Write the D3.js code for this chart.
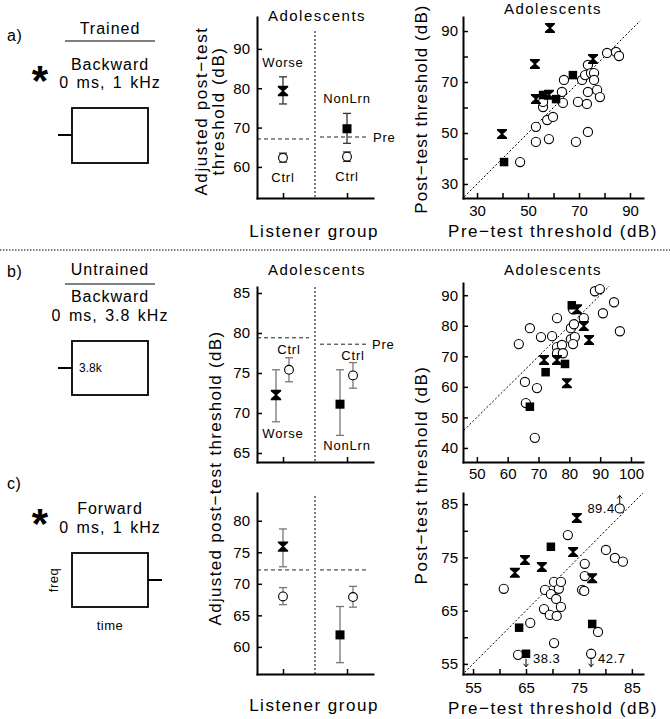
<!DOCTYPE html>
<html><head><meta charset="utf-8">
<script src="https://cdn.jsdelivr.net/npm/d3@7"></script>
<style>
body{margin:0;background:#fff;}
svg{display:block;font-family:"Liberation Sans",Arial,sans-serif;}
</style></head><body>
<svg id="chart" width="670" height="719"></svg>
<script>
// ---------------- DATA ----------------
const midGroups = ["Worse", "NonLrn"];
const ctrlName = "Ctrl";
const preName = "Pre";

// middle panel a (trained: backward 0 ms, 1 kHz)
const midA_expMean = [79.3, 69.7], midA_expLo = [76.0, 66.0], midA_expHi = [82.9, 73.6];
const midA_ctrlMean = [62.3, 62.6], midA_ctrlLo = [61.2, 61.4], midA_ctrlHi = [63.5, 63.8];
const midA_pre = [67.1, 67.6];
const midA_yTicks = [60, 70, 80, 90];

// middle panel b (untrained: backward 0 ms, 3.8 kHz)
const midB_expMean = [72.25, 71.1], midB_expLo = [68.9, 67.2], midB_expHi = [75.4, 75.4];
const midB_ctrlMean = [75.4, 74.7], midB_ctrlLo = [73.9, 73.1], midB_ctrlHi = [76.9, 76.3];
const midB_pre = [79.4, 78.6];
const midB_yTicks = [65, 70, 75, 80, 85];

// middle panel c (untrained: forward 0 ms, 1 kHz)
const midC_expMean = [75.9, 61.9], midC_expLo = [72.7, 57.5], midC_expHi = [78.7, 66.4];
const midC_ctrlMean = [68.0, 67.9], midC_ctrlLo = [66.7, 66.3], midC_ctrlHi = [69.4, 69.6];
const midC_pre = [72.2, 72.2];
const midC_yTicks = [60, 65, 70, 75, 80];

// scatter a
const scA_ctrlPre  = [46.9,53.1,53.1,58.2,57.5,59.8,55.9,55.9,63.3,63.7,64.1,68.8,69.6,71.2,72.4,73.5,74.7,75.9,75.9,73.5,73.1,73.5,77.1,78.2,81.0,84.5,85.7];
const scA_ctrlPost = [38.6,52.4,46.5,47.6,55.1,56.3,60.2,62.2,66.1,61.8,70.8,46.5,62.2,70.8,72.7,76.7,73.5,73.5,70.8,66.1,61.4,50.4,66.9,64.1,81.4,81.8,80.2];
const scA_worsePre  = [58.6,52.7,39.8,53.1,58.2,75.5];
const scA_worsePost = [91.2,77.1,49.6,63.3,65.0,79.0];
const scA_nonPre  = [40.6,55.9,61.0,67.6];
const scA_nonPost = [38.6,64.9,63.3,72.7];
const scA_xTicks = [30,40,50,60,70,80,90], scA_xLabels = [30,50,70,90];
const scA_yTicks = [30,40,50,60,70,80,90], scA_yLabels = [30,50,70,90];

// scatter b
const scB_ctrlPre  = [63.6,67.2,65.6,65.9,69.5,68.8,70.8,74.4,76.0,76.0,77.6,76.0,77.9,80.5,80.5,81.5,81.8,81.2,81.2,84.7,88.3,89.9,90.9,94.5,96.4];
const scB_ctrlPost = [74.0,79.2,61.6,54.7,59.6,43.3,76.3,76.6,82.5,73.0,73.7,71.0,71.0,79.2,75.6,80.5,76.3,74.0,85.4,82.5,91.3,92.0,84.1,87.7,78.2];
const scB_worsePre  = [71.8,76.0,79.2,82.5,84.7,86.4];
const scB_worsePost = [68.8,68.8,61.2,85.4,79.9,75.3];
const scB_nonPre  = [80.8,72.3,78.6,67.2];
const scB_nonPost = [86.7,64.8,67.5,53.5];
const scB_xTicks = [50,60,70,80,90,100], scB_yTicks = [40,50,60,70,80,90];

// scatter c
const scC_ctrlPre  = [60.8,65.8,63.5,68.6,68.4,69.5,69.7,70.3,70.3,70.7,70.8,71.2,71.6,71.6,72.9,75.6,76.0,76.1,76.1,77.3,78.6,80.1,81.8,83.3,82.7];
const scC_ctrlPost = [69.1,62.7,56.7,68.9,65.3,64.2,68.1,58.9,70.4,67.2,64.0,69.1,65.7,70.4,79.2,68.9,68.7,73.8,71.5,56.9,61.0,76.4,74.9,74.2,84.2];
const scC_worsePre  = [62.9,64.8,68.0,74.6,73.9,77.5];
const scC_worsePost = [72.1,74.5,73.2,82.4,76.0,71.1];
const scC_nonPre  = [69.7,63.7,77.5,65.0];
const scC_nonPost = [77.0,61.8,62.5,56.9];
const scC_xTicks = [55,60,65,70,75,80,85], scC_xLabels = [55,65,75,85];
const scC_yTicks = [55,60,65,70,75,80,85], scC_yLabels = [55,65,75,85];
// off-scale points (plotted at edge, real value annotated)
const scC_offPre = [82.7, 65.0, 77.3];
const scC_offShown = [84.2, 56.9, 56.9];
const scC_offActual = [89.4, 38.3, 42.7];

// ---------------- DRAWING ----------------
const svg = d3.select("#chart");

function txt(x, y, s, o = {}) {
  const t = svg.append("text").attr("x", x).attr("y", y).text(s)
    .attr("font-size", o.size || 15).attr("text-anchor", o.anchor || "middle")
    .attr("letter-spacing", o.ls == null ? 1 : o.ls).attr("fill", "#000");
  if (o.weight) t.attr("font-weight", o.weight);
  if (o.rotate) t.attr("transform", `rotate(-90,${x},${y})`);
  return t;
}
function line(x1, y1, x2, y2, o = {}) {
  const l = svg.append("line").attr("x1", x1).attr("y1", y1).attr("x2", x2).attr("y2", y2)
    .attr("stroke", o.color || "#000").attr("stroke-width", o.w || 1);
  if (o.dash) l.attr("stroke-dasharray", o.dash);
  return l;
}
function styleAxis(g) {
  g.attr("font-size", 15).attr("font-family", null);
  g.select(".domain").attr("stroke", "#000").attr("stroke-width", 2).attr("stroke-linecap", "square");
  g.selectAll(".tick line").attr("stroke", "#000").attr("stroke-width", 1.5);
  g.selectAll(".tick text").attr("fill", "#000");
}
const bowPath = (w, h) => `M${-w},${-h}H${w}V${-h+1.4}L1,0L${w},${h-1.4}V${h}H${-w}V${h-1.4}L-1,0L${-w},${-h+1.4}Z`;
function bow(x, y, s = 5) { svg.append("path").attr("d", bowPath(s, s)).attr("transform", `translate(${x},${y})`).attr("fill", "#000"); }
function sq(x, y, s = 8.5) { svg.append("rect").attr("x", x - s/2).attr("y", y - s/2).attr("width", s).attr("height", s).attr("fill", "#000"); }
function circ(x, y, r = 4.6) { svg.append("circle").attr("cx", x).attr("cy", y).attr("r", r).attr("fill", "#fff").attr("stroke", "#000").attr("stroke-width", 1.1); }
function errbar(x, y1, y2, color) {
  line(x, y1, x, y2, { color, w: 1.3 });
  line(x - 4, y1, x + 4, y1, { color, w: 1.3 });
  line(x - 4, y2, x + 4, y2, { color, w: 1.3 });
}

// separator
line(0, 250, 670, 250, { dash: "1.5,1.5", w: 1 });

// ----- left stimulus panels -----
function asterisk(cx, cy) {
  txt(cx, cy + 22, "*", { size: 42, weight: "bold", ls: 0 });
}
txt(7, 41, "a)", { size: 16, anchor: "start", ls: 0.5 });
txt(110, 34, "Trained", { size: 16 });
line(65, 41, 155, 41, { w: 1 });
asterisk(40, 73);
txt(110, 70, "Backward", { size: 16 });
txt(110, 88, "0 ms, 1 kHz", { size: 16 }).attr("word-spacing", 2);
svg.append("rect").attr("x", 72).attr("y", 108).attr("width", 76).attr("height", 55).attr("fill", "none").attr("stroke", "#000").attr("stroke-width", 1.8);
line(58, 135, 72, 135, { w: 2 });

txt(7, 277, "b)", { size: 16, anchor: "start", ls: 0.5 });
txt(110, 275, "Untrained", { size: 16 });
line(65, 284, 155, 284, { w: 1 });
txt(110, 302, "Backward", { size: 16 });
txt(110, 321, "0 ms, 3.8 kHz", { size: 16 }).attr("word-spacing", 2);
svg.append("rect").attr("x", 72).attr("y", 341).attr("width", 76).attr("height", 54).attr("fill", "none").attr("stroke", "#000").attr("stroke-width", 1.8);
line(58, 368, 72, 368, { w: 2 });
txt(79, 372, "3.8k", { size: 12, anchor: "start", ls: 0 });

txt(7, 489, "c)", { size: 16, anchor: "start", ls: 0.5 });
asterisk(40, 516);
txt(110, 514, "Forward", { size: 16 });
txt(110, 533, "0 ms, 1 kHz", { size: 16 }).attr("word-spacing", 2);
svg.append("rect").attr("x", 72).attr("y", 553).attr("width", 76).attr("height", 54).attr("fill", "none").attr("stroke", "#000").attr("stroke-width", 1.8);
line(148, 580, 162, 580, { w: 2 });
txt(58, 580, "freq", { size: 13, rotate: true, ls: 0.5 });
txt(110, 630, "time", { size: 13, ls: 0.5 });

// ----- middle panels -----
function midPanel(c) {
  const x = d3.scalePoint().domain(midGroups).range([257, 373]).padding(0.406);
  const y = d3.scaleLinear().domain(c.yDomain).range([c.bottom, c.top]);
  const xDiv = (x(midGroups[0]) + x(midGroups[1])) / 2;
  line(xDiv, c.divTop, xDiv, c.bottom, { dash: "2,2", w: 1 });
  midGroups.forEach((g, i) => {
    const x1 = i === 0 ? 257 : xDiv + 5, x2 = i === 0 ? xDiv - 6 : 367;
    line(x1, y(c.pre[i]), x2, y(c.pre[i]), { dash: "4,3", w: 1, color: "#222" });
  });
  const ga = svg.append("g").attr("transform", "translate(257,0)")
    .call(d3.axisLeft(y).tickValues(c.ticks).tickSizeInner(-5).tickSizeOuter(0).tickPadding(7));
  styleAxis(ga);
  const gb = svg.append("g").attr("transform", `translate(0,${c.bottom})`)
    .call(d3.axisBottom(x).tickSizeInner(-5).tickSizeOuter(0).tickFormat(""));
  styleAxis(gb);
  midGroups.forEach((g, i) => {
    const xe = x(g) + c.expOff[i], xc = x(g) + c.ctrlOff[i];
    errbar(xe, y(c.expLo[i]), y(c.expHi[i]), c.errColor);
    errbar(xc, y(c.ctrlLo[i]), y(c.ctrlHi[i]), c.errColor);
    if (i === 0) bow(xe, y(c.expMean[i]), 5.2); else sq(xe, y(c.expMean[i]), 9);
    circ(xc, y(c.ctrlMean[i]), 4.4);
  });
  return { x, y, xDiv };
}

const mA = midPanel({ yDomain: [52.1, 98.1], top: 17, bottom: 198, divTop: 31, ticks: midA_yTicks,
  expMean: midA_expMean, expLo: midA_expLo, expHi: midA_expHi,
  ctrlMean: midA_ctrlMean, ctrlLo: midA_ctrlLo, ctrlHi: midA_ctrlHi, pre: midA_pre,
  expOff: [0, 0], ctrlOff: [0, 0], errColor: "#333" });
txt(mA.x("Worse"), mA.y(midA_expHi[0]) - 10, "Worse", { size: 13, ls: 0.8 });
txt(mA.x("NonLrn"), mA.y(midA_expHi[1]) - 10, "NonLrn", { size: 13, ls: 0.8 });
txt(mA.x("Worse"), mA.y(midA_ctrlLo[0]) + 20, ctrlName, { size: 13, ls: 0.8 });
txt(mA.x("NonLrn"), mA.y(midA_ctrlLo[1]) + 20, ctrlName, { size: 13, ls: 0.8 });
txt(373, mA.y(midA_pre[1]) + 5, preName, { size: 13, anchor: "start", ls: 0.8 });
txt(317, 21, "Adolescents", { size: 15, ls: 1.5 });
txt(207, 111, "Adjusted post\u2212test", { size: 17, rotate: true, ls: 1.6 });
txt(224, 111, "threshold (dB)", { size: 17, rotate: true, ls: 1.6 });
txt(314, 237, "Listener group", { size: 17, ls: 1.5 });

const mB = midPanel({ yDomain: [63.875, 85.75], top: 287, bottom: 462, divTop: 287, ticks: midB_yTicks,
  expMean: midB_expMean, expLo: midB_expLo, expHi: midB_expHi,
  ctrlMean: midB_ctrlMean, ctrlLo: midB_ctrlLo, ctrlHi: midB_ctrlHi, pre: midB_pre,
  expOff: [-7, -7], ctrlOff: [6, 6], errColor: "#777" });
txt(mB.x("Worse") + 6, mB.y(midB_ctrlHi[0]) - 4, ctrlName, { size: 13, ls: 0.8 });
txt(mB.x("NonLrn") + 6, mB.y(midB_ctrlHi[1]) - 3, ctrlName, { size: 13, ls: 0.8 });
txt(mB.x("Worse"), mB.y(midB_expLo[0]) + 16, "Worse", { size: 13, ls: 0.8 });
txt(mB.x("NonLrn"), mB.y(midB_expLo[1]) + 15, "NonLrn", { size: 13, ls: 0.8 });
txt(372, mB.y(midB_pre[1]) + 5, preName, { size: 13, anchor: "start", ls: 0.8 });
txt(317, 275, "Adolescents", { size: 15, ls: 1.5 });

const mC = midPanel({ yDomain: [55.7, 84.4], top: 493, bottom: 674, divTop: 496, ticks: midC_yTicks,
  expMean: midC_expMean, expLo: midC_expLo, expHi: midC_expHi,
  ctrlMean: midC_ctrlMean, ctrlLo: midC_ctrlLo, ctrlHi: midC_ctrlHi, pre: midC_pre,
  expOff: [0, -7], ctrlOff: [0, 6], errColor: "#777" });
txt(221, 478, "Adjusted post\u2212test threshold (dB)", { size: 17, rotate: true, ls: 1.3 });
txt(314, 711, "Listener group", { size: 17, ls: 1.5 });

// ----- scatter panels -----
function scatter(c) {
  const x = d3.scaleLinear().domain(c.xDomain).range([463, 643]);
  const y = d3.scaleLinear().domain(c.yDomain).range([c.bottom, c.top]);
  line(x(c.diag[0]), y(c.diag[0]), x(c.diag[1]), y(c.diag[1]), { dash: "2,2", w: 1 });
  const ga = svg.append("g").attr("transform", "translate(463,0)")
    .call(d3.axisLeft(y).tickValues(c.yTicks).tickFormat(d => c.yLabels.includes(d) ? d : "")
      .tickSizeInner(-5).tickSizeOuter(0).tickPadding(5));
  styleAxis(ga);
  const gb = svg.append("g").attr("transform", `translate(0,${c.bottom})`)
    .call(d3.axisBottom(x).tickValues(c.xTicks).tickFormat(d => c.xLabels.includes(d) ? d : "")
      .tickSizeInner(-5).tickSizeOuter(0).tickPadding(c.xPad));
  styleAxis(gb);
  c.ctrlPre.forEach((p, i) => circ(x(p), y(c.ctrlPost[i])));
  c.nonPre.forEach((p, i) => sq(x(p), y(c.nonPost[i])));
  c.worsePre.forEach((p, i) => bow(x(p), y(c.worsePost[i])));
  return { x, y };
}

scatter({ xDomain: [24.5, 95.1], yDomain: [24.5, 95.5], top: 17, bottom: 198, diag: [25, 94], xPad: 7,
  xTicks: scA_xTicks, xLabels: scA_xLabels, yTicks: scA_yTicks, yLabels: scA_yLabels,
  ctrlPre: scA_ctrlPre, ctrlPost: scA_ctrlPost, worsePre: scA_worsePre, worsePost: scA_worsePost,
  nonPre: scA_nonPre, nonPost: scA_nonPost });
txt(553, 14, "Adolescents", { size: 15, ls: 1.5 });
txt(427, 109, "Post\u2212test threshold (dB)", { size: 17, rotate: true, ls: 1.1 });
txt(553, 237, "Pre\u2212test threshold (dB)", { size: 17, ls: 1.5 });

scatter({ xDomain: [45.5, 103.9], yDomain: [35.4, 94.0], top: 283, bottom: 462, diag: [45.8, 93], xPad: 6,
  xTicks: scB_xTicks, xLabels: scB_xTicks, yTicks: scB_yTicks, yLabels: scB_yTicks,
  ctrlPre: scB_ctrlPre, ctrlPost: scB_ctrlPost, worsePre: scB_worsePre, worsePost: scB_worsePost,
  nonPre: scB_nonPre, nonPost: scB_nonPost });
txt(553, 275, "Adolescents", { size: 15, ls: 1.5 });

const sC = scatter({ xDomain: [53.1, 87.1], yDomain: [53.1, 87.1], top: 493, bottom: 674, diag: [53.4, 87.1], xPad: 8,
  xTicks: scC_xTicks, xLabels: scC_xLabels, yTicks: scC_yTicks, yLabels: scC_yLabels,
  ctrlPre: scC_ctrlPre, ctrlPost: scC_ctrlPost, worsePre: scC_worsePre, worsePost: scC_worsePost,
  nonPre: scC_nonPre, nonPost: scC_nonPost });
txt(427, 475, "Post\u2212test threshold (dB)", { size: 17, rotate: true, ls: 1.5 });
txt(553, 714, "Pre\u2212test threshold (dB)", { size: 17, ls: 1.5 });

scC_offPre.forEach((p, i) => {
  const px = sC.x(p), py = sC.y(scC_offShown[i]);
  const up = scC_offActual[i] > scC_offShown[i];
  const y1 = up ? py - 5 : py + 5, y2 = up ? py - 13 : py + 13;
  line(px, y1, px, y2, { w: 1 });
  const d = up ? 3 : -3;
  svg.append("path").attr("d", `M${px-2.5},${y2+d}L${px},${y2}L${px+2.5},${y2+d}`).attr("fill", "none").attr("stroke", "#000").attr("stroke-width", 1);
  if (up) txt(px - 5, py + 5, scC_offActual[i].toFixed(1), { size: 13, anchor: "end", ls: 0.5 });
  else txt(px + 7, py + 9, scC_offActual[i].toFixed(1), { size: 13, anchor: "start", ls: 0.5 });
});
</script>
</body></html>
